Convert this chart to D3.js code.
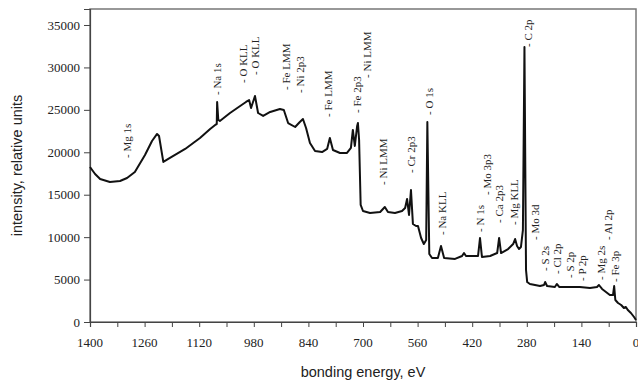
<!DOCTYPE html>
<html>
<head>
<meta charset="utf-8">
<script src="https://cdn.jsdelivr.net/npm/d3@7"></script>
<style>
  body { margin: 0; background: #fff; }
  .tick-label { font-family: "Liberation Serif", "Times New Roman", serif; font-size: 13px; fill: #222; }
  .peak-label { font-family: "Liberation Serif", "Times New Roman", serif; font-size: 11px; fill: #222; }
  .axis-title { font-family: "Liberation Sans", Arial, sans-serif; font-size: 14.5px; fill: #222; }
</style>
</head>
<body>
<div id="chart"></div>
<script>
// spectrum: bonding energy (eV) and intensity
const energy = [1400, 1387, 1374, 1349, 1323, 1305, 1285, 1259, 1241, 1228, 1223, 1212, 1195, 1156, 1118,
  1092, 1079, 1075, 1074, 1071, 1067, 1041, 1015, 1000, 992, 987, 977, 969, 956, 938, 913, 903, 892, 874,
  862, 854, 846, 836, 823, 805, 792, 785, 777, 759, 741, 731, 726, 721, 715, 713, 710, 706, 700, 682, 656,
  644, 636, 618, 600, 592, 587, 582, 577, 572, 564, 559, 551, 544, 538, 535, 530, 523, 508, 500, 492, 464,
  446, 441, 436, 405, 400, 395, 374, 356, 351, 346, 328, 315, 310, 305, 300, 295, 290, 286, 282, 279, 272,
  246, 236, 233, 228, 208, 203, 197, 169, 144, 118, 100, 95, 87, 77, 67, 59, 56, 53, 46, 38, 31, 26, 21,
  13, 5, 0];
const intensity = [18270, 17440, 16850, 16500, 16620, 16970, 17680, 19680, 21330, 22160, 21920, 18860,
  19330, 20390, 21680, 22750, 23220, 23330, 25930, 23810, 23690, 24630, 25460, 25930, 26160, 25220, 26630,
  24630, 24280, 24750, 25100, 24980, 23450, 22980, 23570, 23920, 22860, 21100, 20150, 20030, 20390, 21680,
  20270, 19920, 19920, 20510, 22630, 20740, 23100, 23450, 21450, 13790, 13080, 12850, 12960, 13550, 12960,
  12850, 13080, 13440, 14500, 12610, 15560, 11550, 11310, 11310, 9900, 9190, 9660, 23570, 8010, 7540, 7540,
  8960, 7540, 7430, 7780, 8130, 7780, 7780, 9900, 7660, 7780, 8130, 9900, 8130, 8600, 9190, 9780, 8960,
  8600, 8840, 10840, 32410, 6130, 4710, 4480, 4240, 4360, 4710, 4240, 4130, 4480, 4130, 4130, 4130, 4010,
  4130, 4360, 3890, 3540, 3180, 3180, 4240, 2590, 2240, 2000, 1650, 1770, 1410, 1060, 590, 240];

// peak annotations: text, energy and intensity of the text start
const peakNames = ['- Mg 1s', '- Na 1s', '- O KLL', '- O KLL', '- Fe LMM', '- Ni 2p3', '- Fe LMM',
  '- Fe 2p3', '- Ni LMM', '- Ni LMM', '- Cr 2p3', '- O 1s', '- Na KLL', '- N 1s', '- Mo 3p3', '- Ca 2p3',
  '- Mg KLL', '- C 2p', '- Mo 3d', '- S 2s', '- Cl 2p', '- S 2p', '- P 2p', '- Mg 2s', '- Al 2p', '- Fe 3p'];
const peakEnergy = [1305, 1074, 1008, 977, 897, 862, 790, 715, 690, 649, 577, 531, 497, 400, 382, 351,
  313, 277, 259, 233, 203, 169, 138, 90, 72, 54];
const peakIntensity = [19330, 26750, 28170, 29110, 27340, 26990, 24160, 24630, 28760, 16150, 17560, 24400,
  10250, 10610, 14970, 11670, 11430, 32410, 9660, 6010, 5660, 5190, 4830, 4950, 9660, 4710];

const xTicks = [1400, 1330, 1260, 1190, 1120, 1050, 980, 910, 840, 770, 700, 630, 560, 490, 420, 350, 280, 210, 140, 70, 0];
const xLabels = [1400, 1260, 1120, 980, 840, 700, 560, 420, 280, 140, 0];
const yTicks = [0, 5000, 10000, 15000, 20000, 25000, 30000, 35000];

const W = 638, H = 384;
const plot = { left: 90, right: 636, top: 9, bottom: 322 };

const svg = d3.select('#chart').append('svg')
  .attr('width', W)
  .attr('height', H);

const x = d3.scaleLinear().domain([1400, 0]).range([plot.left, plot.right]);
const y = d3.scaleLinear().domain([0, 36885]).range([plot.bottom, plot.top]);

// frame
svg.append('rect')
  .attr('x', plot.left)
  .attr('y', plot.top)
  .attr('width', plot.right - plot.left)
  .attr('height', plot.bottom - plot.top)
  .attr('fill', 'none')
  .attr('stroke', '#777')
  .attr('stroke-width', 1.5);

// x axis
const xAxis = svg.append('g')
  .attr('transform', `translate(0,${plot.bottom})`)
  .call(d3.axisBottom(x).tickValues(xTicks).tickSize(5).tickFormat(''));
xAxis.select('.domain').attr('stroke', '#444').attr('stroke-width', 1.2);
xAxis.selectAll('.tick line').attr('stroke', '#444');

svg.append('g').selectAll('text')
  .data(xLabels)
  .enter()
  .append('text')
  .attr('class', 'tick-label')
  .attr('x', d => x(d))
  .attr('y', 347)
  .attr('text-anchor', 'middle')
  .text(d => d);

// y axis
const yAxis = svg.append('g')
  .attr('transform', `translate(${plot.left},0)`)
  .call(d3.axisLeft(y).tickValues(yTicks).tickSize(6).tickFormat(''));
yAxis.select('.domain').attr('stroke', '#444').attr('stroke-width', 1.2);
yAxis.selectAll('.tick line').attr('stroke', '#444');

svg.append('g').selectAll('text')
  .data(yTicks)
  .enter()
  .append('text')
  .attr('class', 'tick-label')
  .attr('x', 80)
  .attr('y', d => y(d))
  .attr('dy', '0.35em')
  .attr('text-anchor', 'end')
  .text(d => d);

// axis titles
svg.append('text')
  .attr('class', 'axis-title')
  .attr('transform', `translate(17,${(plot.top + plot.bottom) / 2}) rotate(-90)`)
  .attr('text-anchor', 'middle')
  .attr('dy', '0.35em')
  .text('intensity, relative units');

svg.append('text')
  .attr('class', 'axis-title')
  .attr('x', 363)
  .attr('y', 377)
  .attr('text-anchor', 'middle')
  .text('bonding energy, eV');

// spectrum
const points = energy.map((e, i) => [e, intensity[i]]);
const line = d3.line()
  .x(d => x(d[0]))
  .y(d => y(d[1]));

svg.append('path')
  .datum(points)
  .attr('d', line)
  .attr('fill', 'none')
  .attr('stroke', '#111')
  .attr('stroke-width', 2)
  .attr('stroke-linejoin', 'round');

// peak labels
svg.append('g').selectAll('text')
  .data(peakNames)
  .enter()
  .append('text')
  .attr('class', 'peak-label')
  .attr('transform', (d, i) => `translate(${x(peakEnergy[i])},${y(peakIntensity[i])}) rotate(-90)`)
  .attr('dy', '0.35em')
  .text(d => d);
</script>
</body>
</html>
